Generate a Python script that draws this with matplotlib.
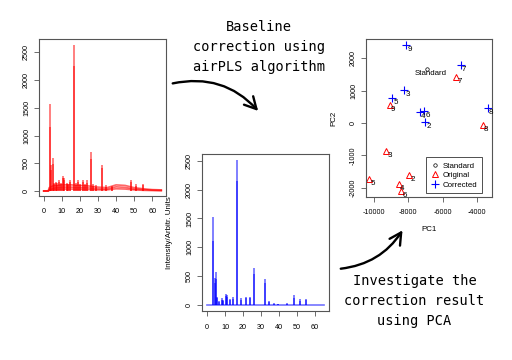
import numpy as np
import matplotlib
matplotlib.use("Agg")
import matplotlib.pyplot as plt
from matplotlib.patches import FancyArrowPatch
from matplotlib.lines import Line2D

plt.rcParams['font.family'] = ['Liberation Sans', 'DejaVu Sans']

# --- original spectra (red), baselines
base_x = [0, 2.5, 3, 5, 10, 15, 20, 25, 30, 35, 40, 45, 50, 55, 60, 65]
red_base1 = [0, 0, 60, 90, 110, 110, 100, 90, 70, 60, 110, 100, 60, 40, 25, 20]
red_base2 = [0, 0, 30, 50, 70, 70, 60, 55, 40, 35, 75, 65, 35, 25, 15, 10]
red_base3 = [0, 0, 10, 25, 35, 35, 30, 25, 20, 20, 40, 35, 20, 12, 8, 5]

red_peak_x = [3.5, 4.3, 4.9, 5.6, 6.8, 7.6, 8.6, 9.5, 10.4, 11.0, 12.6, 13.5, 14.6,
              16.8, 17.6, 18.8, 20.1, 21.5, 22.6, 24.2, 26.1, 27.5, 29.0, 32.1,
              34.6, 37.5, 48.3, 51.2, 55.0]
red_top1 = [1570, 470, 600, 150, 170, 140, 200, 150, 270, 240, 150, 130, 200,
            2630, 140, 200, 130, 200, 130, 190, 700, 120, 110, 460,
            110, 90, 200, 120, 125]
red_top2 = [1150, 380, 480, 120, 140, 110, 160, 120, 230, 200, 120, 100, 170,
            2250, 110, 160, 100, 160, 100, 150, 580, 90, 80, 420,
            80, 70, 160, 90, 100]

# --- corrected spectra (blue)
blue_peak_x = [3.0, 4.1, 4.85, 5.2, 6.8, 8.0, 9.0, 10.4, 11.3, 12.6, 14.5, 16.5,
               18.6, 21.4, 23.8, 26.2, 32.0, 34.6, 37.4, 39.5, 44.6, 48.3, 51.6, 55.0]
blue_top1 = [1530, 460, 565, 140, 60, 110, 80, 185, 170, 100, 130, 2520,
             120, 140, 140, 645, 440, 60, 30, 20, 30, 160, 100, 105]
blue_top2 = [1100, 380, 450, 110, 40, 80, 60, 150, 130, 80, 100, 2150,
             90, 110, 110, 540, 380, 40, 20, 15, 20, 120, 70, 80]

# --- PCA scores
pc_labels = ['2', '3', '4', '5', '6', '7', '8', '9']
orig_pc1 = [-7965, -9283, -8547, -10270, -8430, -5233, -3680, -9087]
orig_pc2 = [-1613, -870, -1900, -1746, -2100, 1430, -55, 545]
corr_pc1 = [-7035, -8256, -7326, -8953, -7093, -4960, -3390, -8140]
corr_pc2 = [37, 1018, 337, 771, 360, 1783, 452, 2412]
std_pc1 = [-6900]
std_pc2 = [1660]

axc = '#555555'


def r_axes(ax, fs=5.2):
    for s in ax.spines.values():
        s.set_color(axc)
        s.set_linewidth(0.8)
    ax.tick_params(length=3.5, width=0.6, color=axc, labelsize=fs)
    ax.tick_params(axis='x', pad=5.5)
    ax.tick_params(axis='y', pad=3, labelrotation=90)
    for t in ax.get_yticklabels():
        t.set_va('center')


fig = plt.figure(figsize=(5.12, 3.6), dpi=100)

# red panel
ax1 = fig.add_axes([0.0762, 0.4556, 0.248, 0.4361])
for b in (red_base1, red_base2, red_base3):
    ax1.plot(base_x, b, color='red', alpha=0.6, lw=1.2)
ax1.vlines(red_peak_x, 0, red_top1, color='red', alpha=0.5, lw=1.4)
ax1.vlines(red_peak_x, 0, red_top2, color='red', alpha=0.5, lw=1.4)
ax1.set_xlim(-2.6, 67.6)
ax1.set_ylim(-90, 2740)
ax1.set_xticks(range(0, 61, 10))
ax1.set_yticks(range(0, 2501, 500))
r_axes(ax1)

# blue panel
ax2 = fig.add_axes([0.3945, 0.1361, 0.248, 0.4361])
ax2.plot([0, 65], [0, 0], color='blue', alpha=0.55, lw=1.2)
ax2.vlines(blue_peak_x, 0, blue_top1, color='blue', alpha=0.5, lw=1.4)
ax2.vlines(blue_peak_x, 0, blue_top2, color='blue', alpha=0.5, lw=1.4)
ax2.set_xlim(-2.9, 67.8)
ax2.set_ylim(-110, 2622)
ax2.set_xticks(range(0, 61, 10))
ax2.set_yticks(range(0, 2501, 500))
ax2.set_ylabel('Intensity/Arbitr. Units', fontsize=5.7, labelpad=9)
r_axes(ax2)

# PCA panel
ax3 = fig.add_axes([0.7148, 0.4528, 0.2461, 0.4389])
ax3.plot(std_pc1, std_pc2, 'o', mfc='none', mec='black', ms=2.5, mew=0.5)
ax3.plot(orig_pc1, orig_pc2, '^', mfc='none', mec='red', ms=4.2, mew=0.7, ls='none')
ax3.plot(corr_pc1, corr_pc2, '+', color='blue', ms=5.5, mew=0.8, ls='none')
for lab, x, y in zip(pc_labels, orig_pc1, orig_pc2):
    ax3.annotate(lab, (x, y), xytext=(2.5, -3.3), textcoords='offset points',
                 ha='center', va='center', fontsize=5.8)
for lab, x, y in zip(pc_labels, corr_pc1, corr_pc2):
    ax3.annotate(lab, (x, y), xytext=(2.5, -3.3), textcoords='offset points',
                 ha='center', va='center', fontsize=5.8)
ax3.annotate('Standard', (std_pc1[0], std_pc2[0]), xytext=(2.5, -3.3),
             textcoords='offset points', ha='center', va='center', fontsize=5.7)
ax3.set_xlim(-10470, -3130)
ax3.set_ylim(-2290, 2600)
ax3.set_xticks([-10000, -8000, -6000, -4000])
ax3.set_yticks([-2000, -1000, 0, 1000, 2000])
ax3.set_xticklabels(['-10000', '-8000', '-6000', '-4000'])
ax3.set_yticklabels(['-2000', '-1000', '0', '1000', '2000'])
ax3.set_xlabel('PC1', fontsize=5.7, labelpad=7)
ax3.set_ylabel('PC2', fontsize=5.7, labelpad=9)
r_axes(ax3)
handles = [
    Line2D([], [], marker='o', ls='none', mfc='none', mec='black', ms=2.5, mew=0.5),
    Line2D([], [], marker='^', ls='none', mfc='none', mec='red', ms=4.2, mew=0.7),
    Line2D([], [], marker='+', ls='none', color='blue', ms=5.5, mew=0.8),
]
leg = ax3.legend(handles, ['Standard', 'Original', 'Corrected'], loc='lower right',
                 bbox_to_anchor=(0.923, 0.023), fontsize=5.7, frameon=True,
                 fancybox=False, borderaxespad=0, borderpad=0.6, handlelength=1.0,
                 handletextpad=0.5, labelspacing=0.25)
leg.get_frame().set_edgecolor('black')
leg.get_frame().set_linewidth(0.6)

# captions
mono = 'DejaVu Sans Mono'
W, H = 512.0, 360.0
for txt, x, y in [('Baseline', 259, 27), ('correction using', 259, 47),
                  ('airPLS algorithm', 259, 67),
                  ('Investigate the', 415, 281), ('correction result', 414, 301),
                  ('using PCA', 414, 321)]:
    fig.text(x / W, 1 - y / H, txt, ha='center', va='center', family=mono,
             fontsize=9.8)

# curved arrows
a1 = FancyArrowPatch((170 / W, 276 / H), (260 / W, 247 / H), transform=fig.transFigure,
                     connectionstyle='arc3,rad=-0.3',
                     arrowstyle='->,head_length=0.6,head_width=0.32',
                     mutation_scale=14, lw=1.7, color='black')
a2 = FancyArrowPatch((338 / W, 91 / H), (404 / W, 132 / H), transform=fig.transFigure,
                     connectionstyle='arc3,rad=0.25',
                     arrowstyle='->,head_length=0.6,head_width=0.32',
                     mutation_scale=14, lw=1.7, color='black')
fig.patches.extend([a1, a2])

fig.savefig('out.png', dpi=100)
